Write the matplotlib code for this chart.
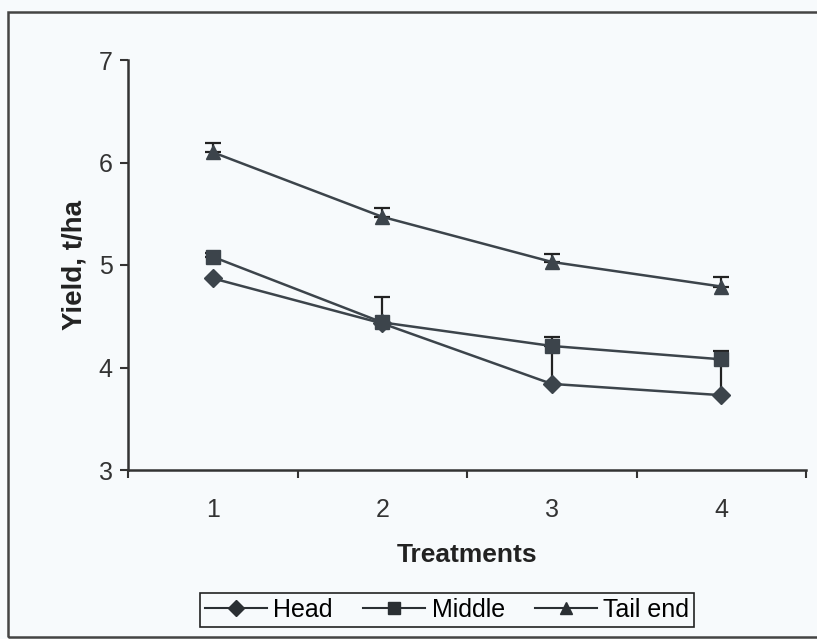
import matplotlib
matplotlib.use("Agg")
import matplotlib.pyplot as plt
from matplotlib.patches import Rectangle
from matplotlib.lines import Line2D

treatments = [1, 2, 3, 4]
tick_labels = ["1", "2", "3", "4"]
head = [4.87, 4.43, 3.84, 3.73]
head_err = [0.0, 0.0, 0.33, 0.30]
middle = [5.08, 4.44, 4.21, 4.08]
middle_err = [0.04, 0.25, 0.09, 0.08]
tail = [6.10, 5.47, 5.03, 4.79]
tail_err = [0.09, 0.09, 0.08, 0.09]

plt.rcParams['font.family'] = ['Liberation Sans', 'DejaVu Sans']
bg = '#f7fafc'
col = '#3c444b'

fig = plt.figure(figsize=(8.17, 6.39), dpi=100, facecolor=bg)
ax = fig.add_axes([128/817, 1-470/639, (806-128)/817, (470-60)/639], facecolor=bg)

series = [("Head", head, head_err, 'D', 9, 4),
          ("Middle", middle, middle_err, 's', 10, 6),
          ("Tail end", tail, tail_err, '^', 10, 6)]
handles = []
for name, vals, err, mk, ms, cs in series:
    lower = [0]*len(err)
    ax.errorbar(treatments, vals, yerr=[lower, err], color=col, lw=1.8,
                marker=mk, markersize=ms, mfc=col, mec=col, ecolor='#222222',
                elinewidth=1.6, capsize=cs, capthick=1.6)
    handles.append(Line2D([], [], color='#2a2f33', lw=1.5, marker=mk,
                          markersize=ms-1, mfc='#2a2f33', mec='#2a2f33', label=name))

ax.set_xlim(0.5, 4.5)
ax.set_ylim(3, 7)
ax.set_yticks([3, 4, 5, 6, 7])
ax.set_xticks([0.5, 1.5, 2.5, 3.5, 4.5])
ax.set_xticklabels([])
ax.set_xticks(treatments, minor=True)
ax.set_xticklabels(tick_labels, minor=True)
ax.tick_params(axis='x', which='minor', length=0, pad=20, labelsize=18, colors='#333333')
ax.tick_params(axis='x', which='major', length=6, width=1.5, direction='out', color='#333333')
ax.tick_params(axis='y', length=6, width=1.5, direction='out', labelsize=18,
               colors='#333333', pad=5)
for s in ['top', 'right']:
    ax.spines[s].set_visible(False)
for s in ['left', 'bottom']:
    ax.spines[s].set_linewidth(1.8)
    ax.spines[s].set_color('#333333')

ax.set_ylabel("Yield, t/ha", fontsize=20, fontweight='bold', labelpad=8, color='#222222')
ax.set_xlabel("Treatments", fontsize=19, fontweight='bold', labelpad=15, color='#222222')

leg = fig.legend(handles=handles, loc='center', bbox_to_anchor=(447/817, 1-610/639), ncol=3,
                 fontsize=18, frameon=True, fancybox=False, edgecolor='#222222',
                 facecolor=bg, framealpha=1, handlelength=2.5, handletextpad=0.25,
                 columnspacing=1.2, borderpad=0.2, borderaxespad=0)
leg.get_frame().set_linewidth(1.2)

fig.patches.append(Rectangle((8/817, 2/639), 1.0, 1-14/639, transform=fig.transFigure,
                             fill=False, edgecolor='#444444', lw=1.8))

fig.savefig("out.png", dpi=100, facecolor=bg)
